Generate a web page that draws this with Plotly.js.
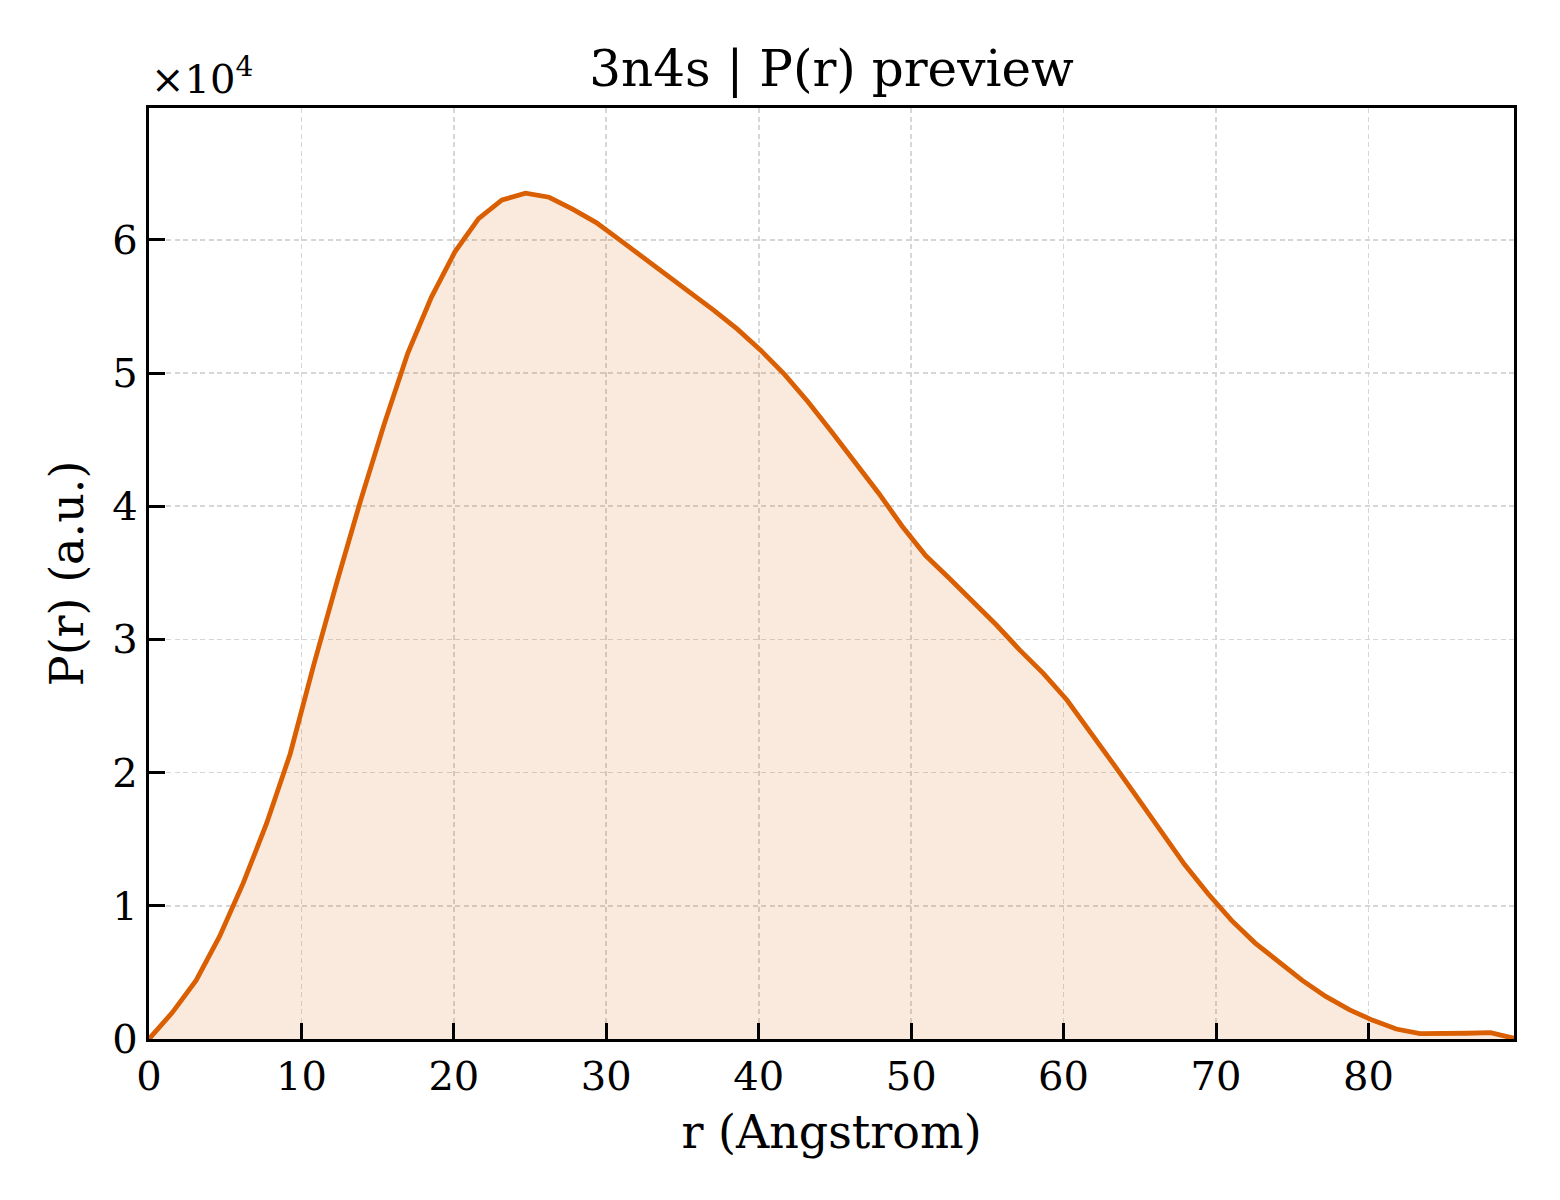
<!DOCTYPE html>
<html>
<head>
<meta charset="utf-8">
<script src="https://cdn.plot.ly/plotly-3.0.1.min.js"></script>
<style>
  body { margin: 0; background: #fff; }
  #plot { width: 1560px; height: 1200px; }
</style>
</head>
<body>
<div id="plot"></div>
<script>
// r (Angstrom) sample positions
const rValues = [
  0, 1.54, 3.09, 4.63, 6.18, 7.72, 9.26, 10.81, 12.35, 13.9,
  15.44, 16.98, 18.53, 20.07, 21.62, 23.16, 24.7, 26.25, 27.79, 29.34,
  30.88, 32.42, 33.97, 35.51, 37.06, 38.6, 40.14, 41.69, 43.23, 44.78,
  46.32, 47.86, 49.41, 50.95, 52.5, 54.04, 55.58, 57.13, 58.67, 60.22,
  61.76, 63.3, 64.85, 66.39, 67.94, 69.48, 71.02, 72.57, 74.11, 75.66,
  77.2, 78.74, 80.29, 81.83, 83.38, 84.92, 86.46, 88.01, 89.55
];

// P(r) in a.u.
const prValues = [
  0, 2000, 4400, 7700, 11700, 16200, 21400, 28100, 34400, 40500,
  46200, 51500, 55700, 59100, 61600, 63000, 63500, 63200, 62300, 61300,
  60000, 58700, 57400, 56100, 54700, 53300, 51700, 49900, 47850, 45600,
  43300, 41000, 38500, 36300, 34600, 32900, 31100, 29200, 27450, 25450,
  23100, 20600, 18100, 15600, 13100, 10900, 8900, 7200, 5800, 4400,
  3200, 2200, 1400, 750, 400, 370, 430, 480, 50
];

const xTicks = [0, 10, 20, 30, 40, 50, 60, 70, 80];
const yTicks = [0, 10000, 20000, 30000, 40000, 50000, 60000];
const yTickText = ["0", "1", "2", "3", "4", "5", "6"];

const FONT = "DejaVu Serif, Liberation Serif, serif";
const LINE_COLOR = "#d95f02";

const trace = {
  x: rValues,
  y: prValues,
  type: "scatter",
  mode: "lines",
  fill: "tozeroy",
  fillcolor: "rgba(217,95,2,0.13)",
  line: { color: LINE_COLOR, width: 4.8 },
  hoverinfo: "skip",
};

const axisCommon = {
  showline: true,
  linecolor: "#000",
  linewidth: 3.2,
  mirror: true,
  ticks: "inside",
  ticklen: 16,
  tickwidth: 3,
  tickcolor: "#000",
  showgrid: true,
  gridcolor: "#d6d6d6",
  gridwidth: 1.6,
  griddash: "5px,3.5px",
  zeroline: false,
  tickfont: { family: FONT, size: 40, color: "#000" },
};

const layout = {
  width: 1560,
  height: 1200,
  paper_bgcolor: "#fff",
  plot_bgcolor: "#fff",
  margin: { l: 149, r: 46, t: 108, b: 161 },
  showlegend: false,
  title: {
    text: "3n4s | P(r) preview",
    font: { family: FONT, size: 50, color: "#000" },
    x: 0.5,
    xref: "paper",
    y: 1,
    yref: "paper",
    yanchor: "bottom",
    pad: { b: 22 },
  },
  xaxis: Object.assign({}, axisCommon, {
    range: [0, 89.55],
    tickvals: xTicks,
    ticktext: xTicks.map(String),
    title: { text: "r (Angstrom)", font: { family: FONT, size: 46, color: "#000" }, standoff: 18 },
  }),
  yaxis: Object.assign({}, axisCommon, {
    range: [0, 69900],
    tickvals: yTicks,
    ticktext: yTickText,
    title: { text: "P(r) (a.u.)", font: { family: FONT, size: 46, color: "#000" }, standoff: 15 },
  }),
  annotations: [
    {
      text: "×10<sup>4</sup>",
      xref: "paper",
      yref: "paper",
      x: 0,
      y: 1,
      xanchor: "left",
      yanchor: "bottom",
      yshift: 4,
      showarrow: false,
      font: { family: FONT, size: 40, color: "#000" },
    },
  ],
};

Plotly.newPlot("plot", [trace], layout, { staticPlot: true, displayModeBar: false });
</script>
</body>
</html>
